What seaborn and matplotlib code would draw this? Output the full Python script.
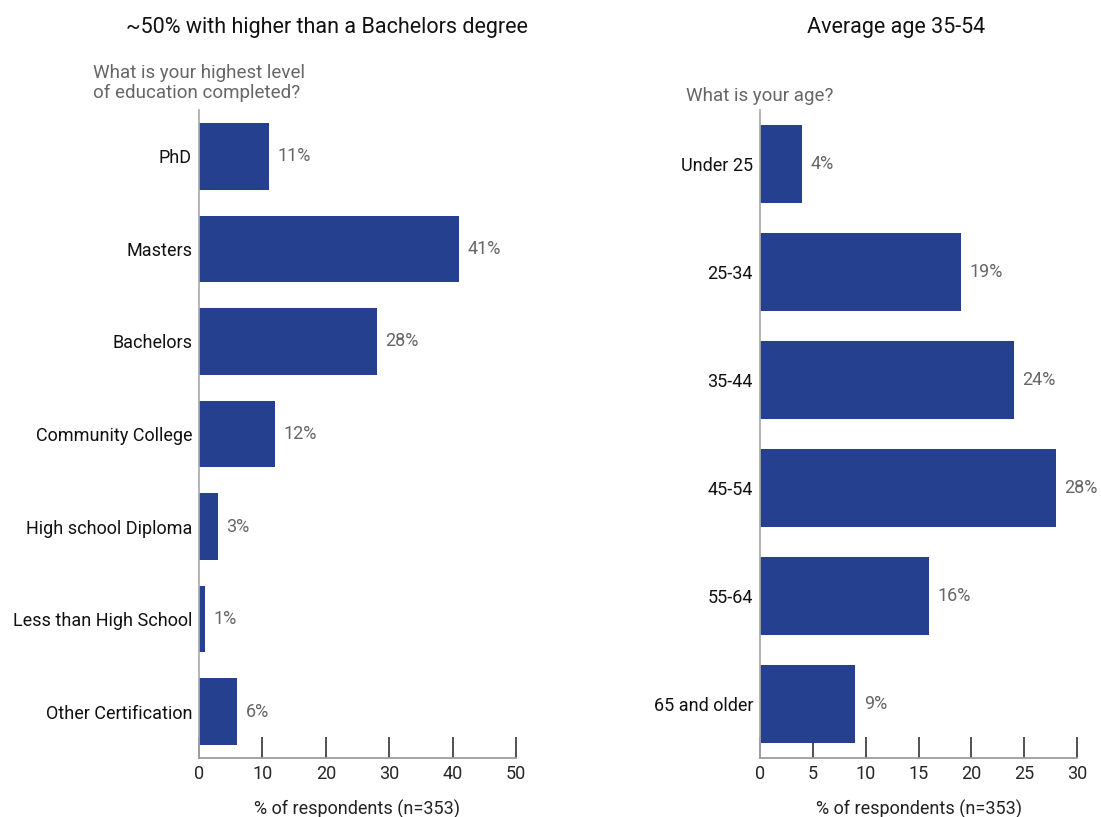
import numpy as np
import pandas as pd
import seaborn as sns
from matplotlib import pyplot as plt

edu_labels = ['PhD', 'Masters', 'Bachelors', 'Community College',
              'High school Diploma', 'Less than High School', 'Other Certification']
edu_values = [11, 41, 28, 12, 3, 1, 6]

age_labels = ['Under 25', '25-34', '35-44', '45-54', '55-64', '65 and older']
age_values = [4, 19, 24, 28, 16, 9]

bar_color = '#25408F'
grey = '#666666'

sns.set_theme(style='white')
plt.rcParams['font.family'] = ['Roboto', 'DejaVu Sans']

fig = plt.figure(figsize=(11.01, 8.17), dpi=100)
ax1 = fig.add_axes([199/1101, 1-758/817, 317/1101, 648/817])
ax2 = fig.add_axes([760/1101, 1-758/817, 317/1101, 648/817])


def draw(ax, labels, values, xmax, step, title, question, title_x, q_x, q_y):
    df = pd.DataFrame({'label': labels, 'value': values})
    sns.barplot(data=df, x='value', y='label', orient='h', color=bar_color,
                width=0.72, saturation=1, linewidth=0, ax=ax)
    ax.set_xlim(0, xmax)
    ax.set_xticks(np.arange(0, xmax + 1, step))
    ax.set_ylabel('')
    ax.set_xlabel('% of respondents (n=353)', fontsize=13, labelpad=12, color='#222222')
    for s in ['top', 'right']:
        ax.spines[s].set_visible(False)
    ax.spines['left'].set_color('#aaaaaa')
    ax.spines['bottom'].set_color('#999999')
    ax.tick_params(axis='x', direction='in', length=15, width=1.2, color='#333333',
                   labelsize=13, pad=5, bottom=True)
    ax.tick_params(axis='y', length=0, labelsize=13, pad=5, labelcolor='#111111')
    for i, v in enumerate(values):
        ax.text(v + xmax * 0.027, i, f'{v}%', va='center', ha='left',
                fontsize=13, color=grey)
    fig.text(title_x / 1101, 1 - 27 / 817, title, ha='center', va='center',
             fontsize=15.5, color='#111111')
    fig.text(q_x / 1101, 1 - q_y / 817, question, ha='left', va='top',
             fontsize=13.5, color=grey, linespacing=1.15)


draw(ax1, edu_labels, edu_values, 50, 10,
     '~50% with higher than a Bachelors degree',
     'What is your highest level\nof education completed?', 327, 93, 64)
draw(ax2, age_labels, age_values, 30, 5,
     'Average age 35-54', 'What is your age?', 896, 686, 87)

fig.savefig('out.png', dpi=100)
